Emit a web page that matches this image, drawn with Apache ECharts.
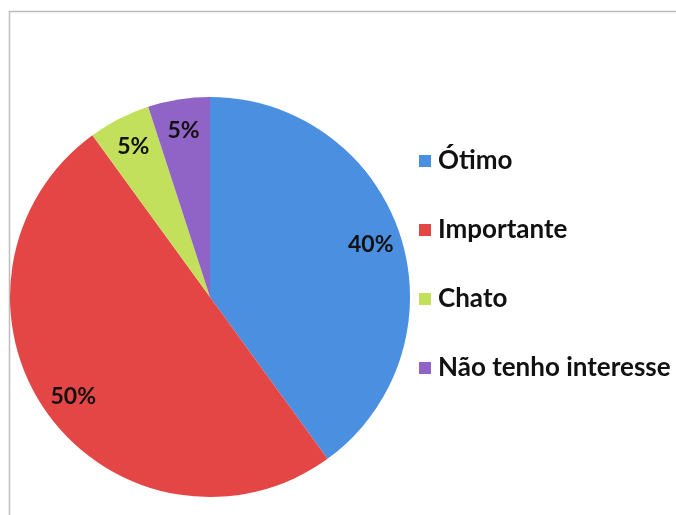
<!DOCTYPE html>
<html>
<head>
<meta charset="utf-8">
<script src="https://cdn.jsdelivr.net/npm/echarts@6/dist/echarts.min.js"></script>
<style>
  html, body { margin: 0; padding: 0; background: #fff; }
  #chart { width: 676px; height: 515px; }
</style>
</head>
<body>
<div id="chart"></div>
<script>
// answers and their share (%)
const categories = ["Ótimo", "Importante", "Chato", "Não tenho interesse"];
const shares = [40, 50, 5, 5];
const colors = ["#4a8fe0", "#e44646", "#c3e05c", "#9063c7"];

const pieData = categories.map((name, i) => ({
  name,
  value: shares[i],
  itemStyle: { color: colors[i] },
}));

const chart = echarts.init(document.getElementById("chart"));

chart.setOption({
  animation: false,
  graphic: [
    {
      type: "rect",
      shape: { x: 9.5, y: 11.5, width: 720, height: 560 },
      style: { fill: null, stroke: "#bdbdbd", lineWidth: 1.5 },
      silent: true,
    },
  ],
  legend: {
    orient: "vertical",
    left: 414,
    top: 143,
    itemWidth: 12,
    itemHeight: 12,
    itemGap: 43,
    icon: "rect",
    data: categories,
    textStyle: {
      fontFamily: "Lato",
      fontWeight: "bold",
      fontSize: 26,
      lineHeight: 26,
      color: "#111",
      padding: [0, 0, 0, 2],
    },
  },
  series: [
    {
      type: "pie",
      center: [210, 297],
      radius: [0, 200],
      startAngle: 90,
      clockwise: true,
      label: { show: false },
      labelLine: { show: false },
      emphasis: { disabled: true },
      data: pieData,
    },
    {
      // transparent ring used only to place labels at ~0.83 r
      type: "pie",
      center: [210, 297],
      radius: [132, 200],
      startAngle: 90,
      clockwise: true,
      silent: true,
      itemStyle: { color: "rgba(0,0,0,0)" },
      label: {
        show: true,
        position: "inside",
        formatter: "{c}%",
        fontFamily: "Lato",
        fontWeight: "bold",
        fontSize: 23,
        color: "#111",
      },
      labelLine: { show: false },
      emphasis: { disabled: true },
      data: categories.map((name, i) => ({ name, value: shares[i] })),
    },
  ],
});
</script>
</body>
</html>
